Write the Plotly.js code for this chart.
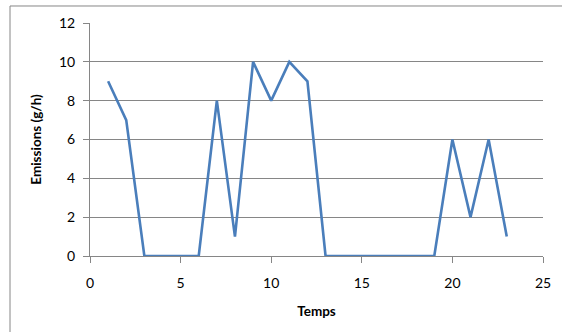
<!DOCTYPE html>
<html><head><meta charset="utf-8">
<script src="https://cdn.plot.ly/plotly-3.0.1.min.js"></script>
<style>html,body{margin:0;padding:0;background:#fff}#c{width:562px;height:332px}</style>
</head><body><div id="c"></div>
<script>
const temps = [1,2,3,4,5,6,7,8,9,10,11,12,13,14,15,16,17,18,19,20,21,22,23];
const emissions = [9,7,0,0,0,0,8,1,10,8,10,9,0,0,0,0,0,0,0,6,2,6,1];
const xTicks = [0,5,10,15,20,25];
const yTicks = [0,2,4,6,8,10,12];

const font = {family:'Lato, "Open Sans", sans-serif', size:14, color:'#000'};
const tfont = {family:font.family, size:13.5, color:'#000'};
Plotly.newPlot('c', [{
  x: temps, y: emissions, type:'scatter', mode:'lines',
  line:{color:'#4a7ebb', width:2.6}, hoverinfo:'none'
}], {
  width:562, height:332,
  margin:{l:90, r:19, t:23, b:76},
  paper_bgcolor:'#fff', plot_bgcolor:'#fff',
  showlegend:false,
  font: font,
  xaxis:{range:[0,25], tickvals:xTicks, ticktext:xTicks.map(String), showgrid:false, zeroline:false,
    showline:true, linecolor:'#868686', linewidth:1, ticks:'outside', ticklen:6, tickcolor:'#868686',
    ticklabelstandoff:8,
    tickfont:font, title:{text:'<b>Temps</b>', font:tfont, standoff:16}},
  yaxis:{range:[0,12], tickvals:yTicks, showgrid:true, gridcolor:'#868686', gridwidth:1, zeroline:false,
    showline:true, linecolor:'#868686', linewidth:1, ticks:'outside', ticklen:6, tickcolor:'#868686',
    ticklabelstandoff:5,
    tickfont:font, title:{text:'<b>Emissions (g/h)</b>', font:tfont, standoff:14}},
  shapes:[{type:'rect', xref:'paper', yref:'paper', x0:-0.1766, x1:1.2, y0:-0.5, y1:1.073,
    line:{color:'#868686', width:1}, fillcolor:'rgba(0,0,0,0)', layer:'below'}]
}, {staticPlot:true});
</script></body></html>
